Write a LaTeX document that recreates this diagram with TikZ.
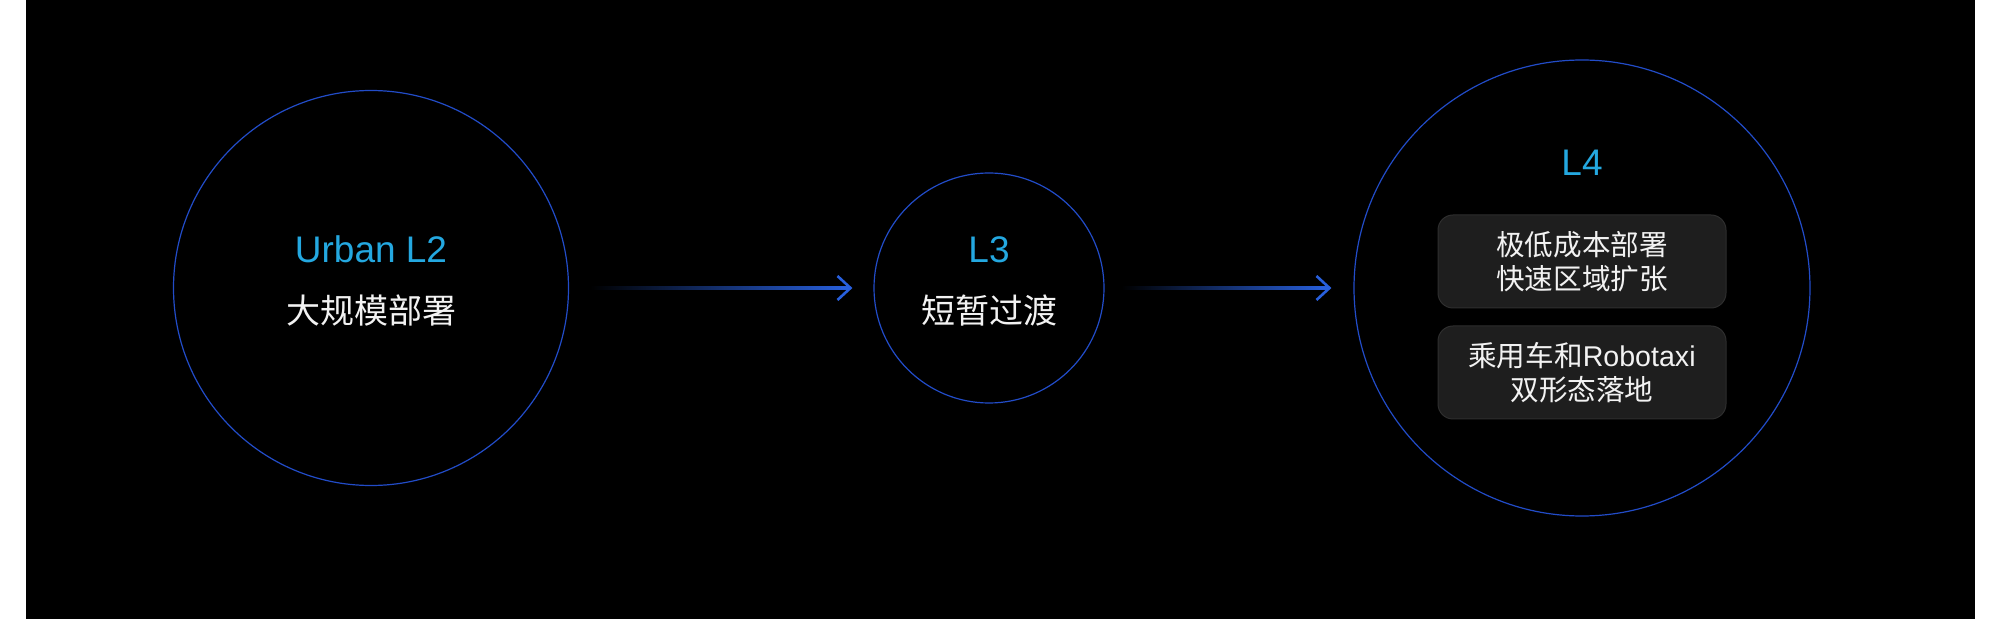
\documentclass[tikz,border=0pt]{standalone}
\usepackage{fontspec}
\setmainfont{Liberation Sans}
\newfontfamily\cjk{Noto Sans CJK SC}
\usepackage{xcolor}
\usepackage{tikz}
\usetikzlibrary{positioning,calc,arrows.meta}
\definecolor{ringblue}{RGB}{34,76,200}
\definecolor{arrowblue}{RGB}{40,96,222}
\definecolor{levelcyan}{RGB}{36,168,224}
\definecolor{boxgray}{RGB}{30,30,30}
\definecolor{boxline}{RGB}{46,46,46}
\definecolor{textwhite}{RGB}{242,242,242}
\tikzstyle{ring} = [circle, draw=ringblue, line width=1.2pt, inner sep=0pt]
\tikzstyle{leveltitle} = [text=levelcyan, font=\fontsize{37}{40}\selectfont, anchor=base, inner sep=0pt]
\tikzstyle{leveltext} = [text=textwhite, font=\cjk\fontsize{34}{40}\selectfont, anchor=base, inner sep=0pt]
\tikzstyle{featurebox} = [draw=boxline, fill=boxgray, rounded corners=15pt, line width=1pt,
    minimum width=288pt, minimum height=93pt, align=center, text=textwhite,
    font=\fontsize{28.6}{34.5}\selectfont]
\tikzstyle{arrowhead} = [draw=arrowblue, line width=2.6pt, -{Straight Barb[length=13pt,width=24pt]}]

\begin{document}
\begin{tikzpicture}[x=1pt,y=1pt]
% page and dark panel
\fill[white] (0,0) rectangle (2000,619);
\fill[black] (25.5,0) rectangle (1975,619);

% the three stages
\node[ring, minimum size=395pt] (l2) at (371,331) {};
\node[ring, minimum size=230pt] (l3) at (989,331) {};
\node[ring, minimum size=456pt] (l4) at (1582,331) {};

\node[leveltitle] (l2title) at ($(l2.center)+(0,25)$) {Urban L2};
\node[leveltext] (l2text) at ($(l2.center)+(0,-36)$) {大规模部署};
\node[leveltitle] (l3title) at ($(l3.center)+(0,25)$) {L3};
\node[leveltext] (l3text) at ($(l3.center)+(0,-36)$) {短暂过渡};
\node[leveltitle] (l4title) at ($(l4.center)+(0,112)$) {L4};

\node[featurebox] (cost) at ($(l4.center)+(0,26.5)$) {{\cjk 极低成本部署}\\{\cjk 快速区域扩张}};
\node[featurebox, below=17pt of cost] (taxi) {{\cjk 乘用车和}Robotaxi\\{\cjk 双形态落地}};

% arrows, fading in from the left
\shade[left color=black, right color=arrowblue] ($(l2.east)+(21,-1.3)$) rectangle ($(l3.west)+(-24,1.3)$);
\draw[arrowhead] ($(l3.west)+(-32,0)$) -- ($(l3.west)+(-21,0)$);
\shade[left color=black, right color=arrowblue] ($(l3.east)+(17,-1.3)$) rectangle ($(l4.west)+(-25,1.3)$);
\draw[arrowhead] ($(l4.west)+(-33,0)$) -- ($(l4.west)+(-22,0)$);
\end{tikzpicture}
\end{document}
